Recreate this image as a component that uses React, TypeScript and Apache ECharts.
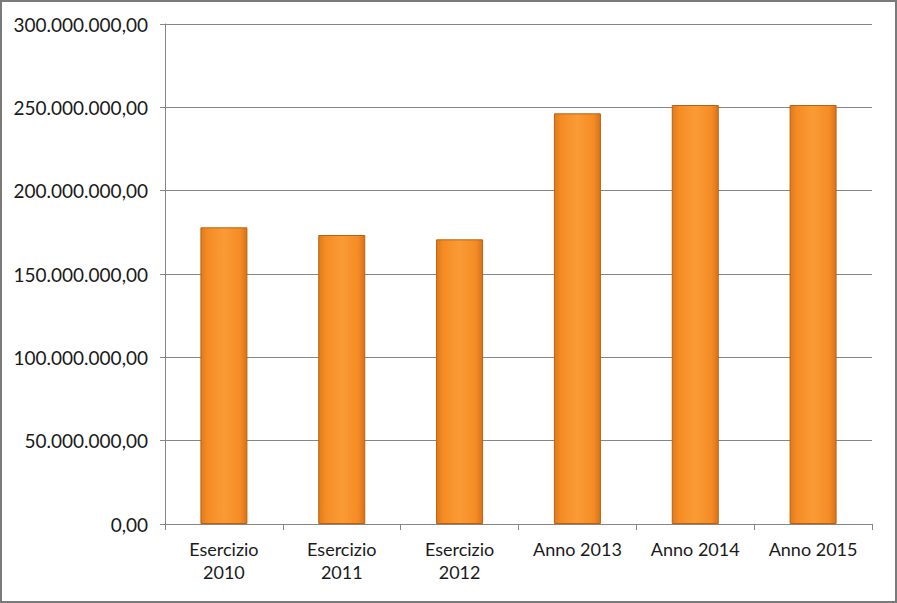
import React, { useEffect, useRef } from "react";
import * as echarts from "echarts";

const categories = ["Esercizio\n2010", "Esercizio\n2011", "Esercizio\n2012", "Anno 2013", "Anno 2014", "Anno 2015"];
const values = [178000000, 173400000, 170800000, 246400000, 251400000, 251400000];
const yMax = 300000000;
const yInterval = 50000000;

function fmt(v: number): string {
  const s = Math.round(v).toString().replace(/\B(?=(\d{3})+(?!\d))/g, ".");
  return s + ",00";
}

export default function App() {
  const ref = useRef<HTMLDivElement>(null);
  useEffect(() => {
    document.body.style.margin = "0";
    const chart = echarts.init(ref.current!, null, { renderer: "svg" });
    const font = "Lato, 'Open Sans', sans-serif";
    chart.setOption({
      animation: false,
      backgroundColor: "#ffffff",
      grid: { left: 163, right: 23, top: 22, bottom: 77 },
      xAxis: {
        type: "category",
        data: categories,
        axisLine: { lineStyle: { color: "#868686", width: 1 } },
        axisTick: { show: true, length: 6, lineStyle: { color: "#868686" } },
        axisLabel: { interval: 0, hideOverlap: false, color: "#1a1a1a", fontSize: 18, fontFamily: font, lineHeight: 23, margin: 13 },
      },
      yAxis: {
        type: "value",
        min: 0,
        max: yMax,
        interval: yInterval,
        axisLine: { show: true, lineStyle: { color: "#868686", width: 1 } },
        axisTick: { show: true, length: 5, lineStyle: { color: "#868686" } },
        splitLine: { lineStyle: { color: "#868686", width: 1 } },
        axisLabel: { color: "#1a1a1a", fontSize: 19, fontFamily: font, margin: 17, formatter: (v: number) => fmt(v) },
      },
      series: [
        {
          type: "bar",
          data: values,
          barWidth: 47,
          itemStyle: {
            borderColor: "#B8620F",
            borderWidth: 1,
            color: new echarts.graphic.LinearGradient(0, 0, 1, 0, [
              { offset: 0, color: "#E07A1A" },
              { offset: 0.15, color: "#F58C25" },
              { offset: 0.5, color: "#FA9B35" },
              { offset: 0.85, color: "#F58C25" },
              { offset: 1, color: "#D9721A" },
            ]),
          },
        },
      ],
    });
    return () => chart.dispose();
  }, []);
  return (
    <div style={{ width: 897, height: 603, boxSizing: "border-box", border: "2px solid #7a7a7a", background: "#fff" }}>
      <div ref={ref} style={{ width: 893, height: 599 }} />
    </div>
  );
}
